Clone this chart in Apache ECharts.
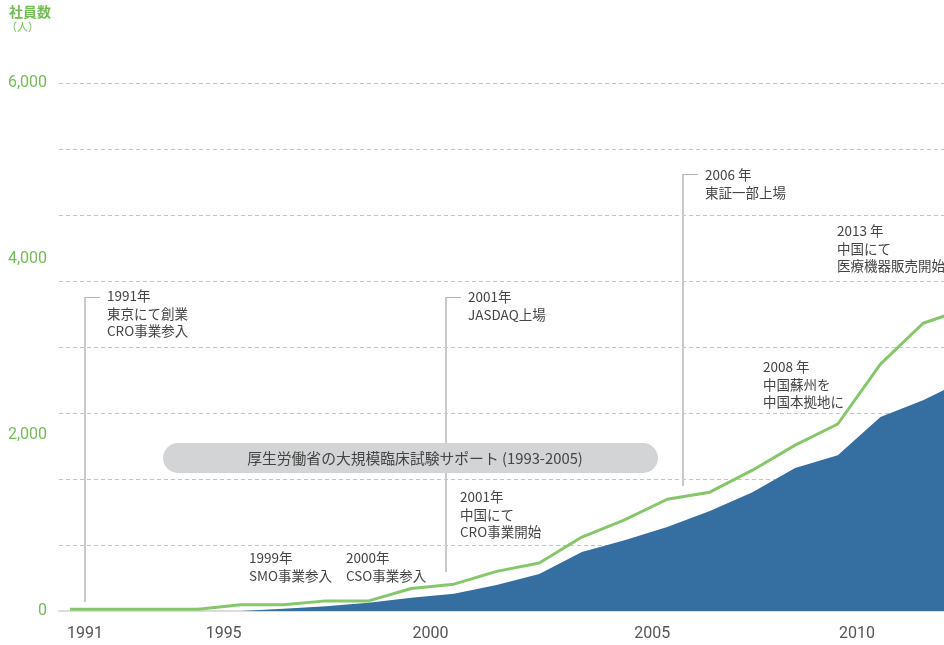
<!DOCTYPE html>
<html>
<head>
<meta charset="utf-8">
<script src="https://cdn.jsdelivr.net/npm/echarts@6/dist/echarts.min.js"></script>
<style>
  html, body { margin: 0; padding: 0; background: #fff; }
  #chart { width: 944px; height: 645px; }
</style>
</head>
<body>
<div id="chart"></div>
<script>
// fiscal years, last one runs off the right edge
const years = [1991, 1992, 1993, 1994, 1995, 1996, 1997, 1998, 1999, 2000, 2001,
  2002, 2003, 2004, 2005, 2006, 2007, 2008, 2009, 2010, 2011, 2012];
// green line
const groupStaff = [20, 20, 20, 20, 70, 70, 115, 115, 255, 305, 450,
  545, 840, 1035, 1270, 1350, 1600, 1885, 2125, 2805, 3270, 3435];
// blue area
const coreStaff = [0, 0, 0, 0, 0, 25, 55, 95, 150, 195, 295,
  420, 670, 805, 955, 1135, 1350, 1625, 1770, 2205, 2395, 2630];

const xTickLabels = ["1991", "1995", "2000", "2005", "2010"];
const xTickAt = [1991.35, 1994.6, 1999.45, 2004.65, 2009.45];
const yTickValues = [0, 2000, 4000, 6000];

const GREEN = "#85c76a";
const GREEN_TXT = "#72be55";
const BLUE = "#356ea0";
const JP = '"Noto Sans CJK JP", "Noto Sans", sans-serif';

const notes = [
  { x: 107, y: 296, text: "1991年\n東京にて創業\nCRO事業参入", line: [85, 297, 602] },
  { x: 468, y: 297, text: "2001年\nJASDAQ上場", line: [446, 297, 572] },
  { x: 705, y: 175, text: "2006 年\n東証一部上場", line: [683, 174, 486] },
  { x: 837, y: 231, text: "2013 年\n中国にて\n医療機器販売開始" },
  { x: 763, y: 367, text: "2008 年\n中国蘇州を\n中国本拠地に" },
  { x: 460, y: 497, text: "2001年\n中国にて\nCRO事業開始" },
  { x: 249, y: 558, text: "1999年\nSMO事業参入" },
  { x: 346, y: 558, text: "2000年\nCSO事業参入" }
];

const LH = 17.5;
const graphics = [
  { type: "text", left: 9, top: 5, style: { text: "社員数", fill: GREEN_TXT, font: "bold 14px " + JP } },
  { type: "text", left: 6, top: 21, style: { text: "（人）", fill: GREEN_TXT, font: "11px " + JP } }
];
notes.forEach((n) => {
  if (n.line) {
    const [lx, top, bottom] = n.line;
    graphics.push({ type: "line", z: 5, shape: { x1: lx, y1: top, x2: lx, y2: bottom },
      style: { stroke: "#c9c9c9", lineWidth: 2 } });
    graphics.push({ type: "line", z: 5, shape: { x1: lx, y1: top + 0.5, x2: lx + 15, y2: top + 0.5 },
      style: { stroke: "#b5b5b5", lineWidth: 1 } });
  }
  graphics.push({ type: "text", z: 6, x: n.x, y: n.y - LH / 2,
    style: { text: n.text, fill: "#444", font: "13.5px " + JP, lineHeight: LH, verticalAlign: "top" } });
});
// study support band
graphics.push({ type: "rect", z: 10, shape: { x: 163, y: 443, width: 495, height: 30, r: 15 },
  style: { fill: "#d3d4d6" } });
graphics.push({ type: "text", z: 11, x: 415, y: 458,
  style: { text: "厚生労働省の大規模臨床試験サポート (1993-2005)", fill: "#444",
    font: "14.8px " + JP, align: "center", verticalAlign: "middle" } });

const chart = echarts.init(document.getElementById("chart"));
chart.setOption({
  animation: false,
  grid: { left: 59, right: 0, top: 83, bottom: 34 },
  xAxis: {
    type: "value",
    min: 1990.74,
    max: 2011.49,
    splitLine: { show: false },
    axisLine: { lineStyle: { color: "#dcdcdc", width: 2 } },
    axisTick: { show: false },
    axisLabel: {
      customValues: xTickAt,
      formatter: (v) => {
        let best = 0;
        xTickAt.forEach((t, i) => { if (Math.abs(t - v) < Math.abs(xTickAt[best] - v)) best = i; });
        return xTickLabels[best];
      },
      color: "#555",
      fontFamily: "Roboto",
      fontSize: 16,
      margin: 15
    }
  },
  yAxis: [
    {
      type: "value",
      min: 0,
      max: 6000,
      interval: 750,
      axisLine: { show: false },
      axisTick: { show: false },
      axisLabel: { show: false },
      splitLine: { showMinLine: false, lineStyle: { color: "#c4c4c4", type: [4, 3], width: 1 } }
    },
    {
      type: "value",
      position: "left",
      min: 0,
      max: 6000,
      interval: 2000,
      axisLine: { show: false },
      axisTick: { show: false },
      splitLine: { show: false },
      axisLabel: {
        customValues: yTickValues,
        formatter: (v) => v.toLocaleString("en-US"),
        color: GREEN_TXT,
        fontFamily: "Roboto",
        fontSize: 16,
        margin: 12
      }
    }
  ],
  series: [
    {
      type: "line",
      data: years.map((y, i) => [y, coreStaff[i]]),
      symbol: "none",
      lineStyle: { width: 0 },
      areaStyle: { color: BLUE, opacity: 1 },
      z: 2
    },
    {
      type: "line",
      data: years.map((y, i) => [y, groupStaff[i]]),
      symbol: "none",
      lineStyle: { color: GREEN, width: 3 },
      z: 3
    }
  ],
  graphic: graphics
});
</script>
</body>
</html>
